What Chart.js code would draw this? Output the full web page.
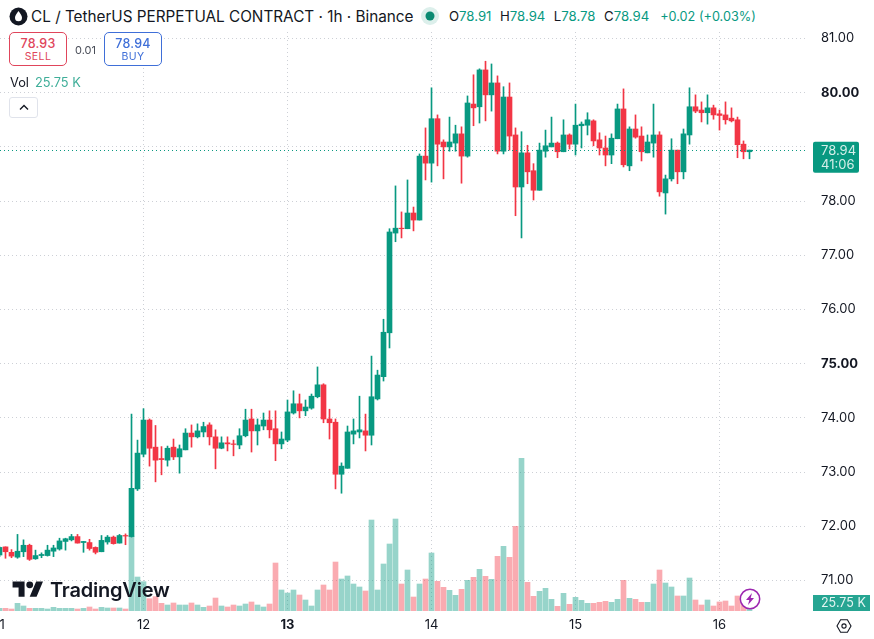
<!DOCTYPE html>
<html>
<head>
<meta charset="utf-8">
<title>CL / TetherUS hourly chart</title>
<script src="https://cdn.jsdelivr.net/npm/chart.js@4"></script>
<style>
    html, body { margin: 0; padding: 0; background: #fff; }
    body { width: 874px; height: 639px; overflow: hidden; position: relative; font-family: Inter, sans-serif; color: #131722; }
    canvas { position: absolute; left: 0; top: 0; }
    .abs { position: absolute; white-space: nowrap; }
    #legend-band { left: 0; top: 0; width: 762px; height: 31px; background: #fff; }
    #title { left: 31px; top: 7px; font-size: 15.3px; line-height: 19px; }
    #ohlc { left: 449px; top: 8px; font-size: 13.2px; line-height: 17px; color: #089981; }
    #ohlc b { font-weight: 400; color: #131722; }
    #ohlc span { margin-right: 8.5px; }
    #ohlc i { font-style: normal; font-size: 12.7px; margin-left: 2.5px; }
    .quote { box-sizing: border-box; width: 58px; height: 34px; top: 32px; border: 1px solid; border-radius: 5px; background: #fff; text-align: center; }
    .quote div:first-child { font-size: 12.5px; font-weight: 500; line-height: 15px; margin-top: 3px; letter-spacing: 0.2px; }
    .quote div:last-child { font-size: 10.5px; line-height: 12px; letter-spacing: 0.4px; }
    #sell { left: 9px; border-color: #e0455b; color: #e0455b; }
    #buy { left: 104px; border-color: #3f6fd8; color: #3f6fd8; }
    #spread { left: 75px; top: 43px; font-size: 11px; line-height: 14px; color: #4a4e59; background: #fff; }
    #vol { left: 10px; top: 75px; font-size: 12.8px; line-height: 16px; background: #fff; padding-right: 2px; }
    #vol span { color: #3fae99; margin-left: 6px; }
    #collapse { left: 9px; top: 97px; width: 29px; height: 21px; box-sizing: border-box; border: 1px solid #e0e3eb; border-radius: 3px; background: #fff; }
    #brand { left: 12px; top: 578px; }
    #brand-name { left: 50px; top: 577px; font-size: 20px; line-height: 26px; font-weight: 600; letter-spacing: -0.2px; color: #131722; }
</style>
</head>
<body>
<canvas id="grafico" width="874" height="639"></canvas>

<div class="abs" id="legend-band"></div>
<svg class="abs" style="left:9px;top:7px" width="19" height="19" viewBox="0 0 19 19">
    <circle cx="9.5" cy="9.5" r="9" fill="#131722"/>
    <path d="M9.5 4 C11.6 7 13 8.6 13 10.8 A3.5 3.5 0 0 1 6 10.8 C6 8.6 7.4 7 9.5 4 Z" fill="#fff"/>
</svg>
<div class="abs" id="title">CL / TetherUS PERPETUAL CONTRACT · 1h · Binance</div>
<svg class="abs" style="left:420px;top:6px" width="20" height="20" viewBox="0 0 20 20">
    <circle cx="10" cy="10" r="9" fill="#dcefeb"/>
    <circle cx="10" cy="10" r="4.5" fill="#0b8a72"/>
</svg>
<div class="abs" id="ohlc"><span><b>O</b>78.91</span><span><b>H</b>78.94</span><span><b>L</b>78.78</span><span><b>C</b>78.94</span><i>+0.02 (+0.03%)</i></div>

<div class="abs quote" id="sell"><div>78.93</div><div>SELL</div></div>
<div class="abs" id="spread">0.01</div>
<div class="abs quote" id="buy"><div>78.94</div><div>BUY</div></div>
<div class="abs" id="vol">Vol<span>25.75 K</span></div>
<div class="abs" id="collapse">
    <svg style="position:absolute;left:9px;top:6px" width="10" height="7" viewBox="0 0 10 7"><path d="M1 5.5 L5 1.5 L9 5.5" fill="none" stroke="#131722" stroke-width="1.4"/></svg>
</div>

<!-- marca de agua -->
<svg class="abs" id="brand" width="32" height="24" viewBox="0 0 36 28"><path d="M14 22H7V11H0V4h14v18zM28 22h-8l7.5-18h8L28 22z" fill="#131722"/><circle cx="20" cy="8" r="4" fill="#131722"/></svg>
<div class="abs" id="brand-name">TradingView</div>

<!-- icono de energia -->
<svg class="abs" style="left:739px;top:588px" width="22" height="22" viewBox="0 0 22 22">
    <circle cx="11" cy="11" r="9.7" fill="#fff" stroke="#9c27b0" stroke-width="1.5"/>
    <path d="M13 5 L7 12 L10.3 12 L9 17 L15 10 L11.7 10 Z" fill="#9c27b0"/>
</svg>
<!-- ajustes del eje -->
<svg class="abs" style="left:836px;top:618px" width="16" height="16" viewBox="0 0 16 16">
    <path d="M4.6 1.8 H11.4 L15 8 L11.4 14.2 H4.6 L1 8 Z" fill="none" stroke="#131722" stroke-width="1.1"/>
    <circle cx="8" cy="8" r="2.1" fill="none" stroke="#131722" stroke-width="1.1"/>
</svg>

<script>
// =========================================================
// DATOS: velas de 1 hora y volumen (en miles)
// =========================================================
const opens = [
    71.47, 71.62, 71.52, 71.43, 71.53, 71.65, 71.40, 71.46, 71.46, 71.54,
    71.58, 71.72, 71.75, 71.81, 71.70, 71.70, 71.61, 71.53, 71.71, 71.80,
    71.69, 71.83, 71.81, 72.69, 73.33, 73.96, 73.46, 73.25, 73.22, 73.46,
    73.28, 73.41, 73.72, 73.65, 73.74, 73.87, 73.65, 73.44, 73.54, 73.52,
    73.50, 73.67, 73.98, 73.76, 73.85, 73.96, 73.80, 73.52, 73.59, 74.09,
    74.26, 74.13, 74.18, 74.39, 74.61, 73.98, 73.92, 72.96, 73.07, 73.70,
    73.74, 73.76, 73.68, 74.35, 74.76, 75.57, 77.41, 77.50, 77.49, 77.78,
    77.65, 78.83, 78.70, 79.52, 79.09, 79.00, 79.07, 79.24, 78.83, 79.79,
    79.74, 80.42, 79.96, 80.18, 78.92, 79.92, 79.22, 78.26, 78.89, 78.56,
    78.20, 78.92, 79.00, 79.07, 78.91, 79.22, 79.05, 79.39, 79.40, 79.48,
    79.13, 78.98, 78.85, 79.15, 79.70, 78.65, 79.33, 79.20, 78.89, 79.07,
    79.22, 78.15, 78.41, 78.94, 78.54, 79.22, 79.74, 79.68, 79.63, 79.72,
    79.61, 79.59, 79.53, 79.50, 79.05, 78.91
];
const highs = [
    71.62, 71.62, 71.57, 71.85, 71.75, 71.67, 71.56, 71.51, 71.65, 71.65,
    71.78, 71.78, 71.85, 71.85, 71.72, 71.76, 71.62, 71.83, 71.83, 71.82,
    71.85, 71.86, 74.07, 73.59, 74.17, 73.98, 73.86, 73.47, 73.48, 73.61,
    73.50, 73.80, 73.87, 73.89, 73.92, 73.91, 73.78, 73.65, 73.65, 73.59,
    73.80, 74.16, 74.16, 73.98, 74.09, 74.13, 74.13, 73.74, 74.33, 74.50,
    74.44, 74.33, 74.44, 74.94, 74.63, 74.16, 73.98, 73.17, 73.85, 73.98,
    74.40, 74.07, 75.14, 74.88, 75.82, 77.49, 78.28, 77.80, 78.39, 77.89,
    78.87, 79.35, 80.09, 79.59, 79.13, 79.55, 79.40, 79.37, 79.94, 80.33,
    80.44, 80.58, 80.53, 80.31, 80.11, 80.18, 79.35, 79.28, 79.03, 78.69,
    79.07, 79.31, 79.55, 79.09, 79.50, 79.24, 79.79, 79.46, 79.63, 79.50,
    79.26, 79.20, 79.24, 79.79, 80.07, 79.37, 79.59, 79.37, 79.22, 79.79,
    79.28, 78.48, 79.15, 78.94, 79.33, 80.09, 79.96, 79.83, 79.96, 79.77,
    79.68, 79.83, 79.72, 79.55, 79.11, 78.94
];
const lows = [
    71.44, 71.41, 71.42, 71.41, 71.44, 71.37, 71.39, 71.42, 71.45, 71.44,
    71.56, 71.56, 71.73, 71.69, 71.52, 71.56, 71.49, 71.53, 71.67, 71.67,
    71.69, 71.66, 71.80, 72.66, 73.28, 73.11, 72.82, 72.95, 73.11, 73.23,
    72.98, 73.41, 73.46, 73.63, 73.65, 73.50, 73.06, 73.43, 73.39, 73.30,
    73.43, 73.65, 73.37, 73.50, 73.78, 73.63, 73.21, 73.43, 73.56, 74.07,
    74.00, 74.04, 74.16, 74.37, 73.91, 73.61, 72.69, 72.61, 73.07, 73.52,
    73.63, 73.39, 73.50, 74.33, 74.68, 75.29, 77.25, 77.32, 77.49, 77.45,
    77.65, 78.39, 78.35, 78.65, 78.41, 78.92, 78.92, 78.33, 78.81, 79.39,
    79.44, 79.48, 79.66, 78.87, 78.87, 78.94, 77.73, 77.32, 78.32, 78.02,
    78.20, 78.81, 79.00, 78.80, 78.91, 78.96, 78.85, 78.98, 79.22, 79.02,
    78.85, 78.65, 78.69, 79.15, 78.63, 78.56, 79.16, 78.74, 78.89, 78.81,
    78.09, 77.76, 78.37, 78.32, 78.41, 79.05, 79.63, 79.46, 79.42, 79.51,
    79.31, 79.42, 79.46, 78.80, 78.78, 78.78
];
const closes = [
    71.61, 71.53, 71.45, 71.54, 71.65, 71.39, 71.46, 71.48, 71.56, 71.60,
    71.73, 71.77, 71.81, 71.69, 71.72, 71.59, 71.52, 71.74, 71.80, 71.68,
    71.83, 71.82, 72.70, 73.35, 73.96, 73.44, 73.22, 73.23, 73.44, 73.28,
    73.43, 73.72, 73.65, 73.76, 73.84, 73.65, 73.44, 73.54, 73.52, 73.51,
    73.67, 73.96, 73.76, 73.87, 73.96, 73.78, 73.52, 73.61, 74.11, 74.26,
    74.13, 74.20, 74.40, 74.61, 73.98, 73.91, 72.96, 73.11, 73.74, 73.76,
    73.78, 73.68, 74.39, 74.79, 75.58, 77.43, 77.50, 77.49, 77.78, 77.65,
    78.83, 78.70, 79.52, 79.05, 79.00, 79.09, 79.24, 78.83, 79.81, 79.72,
    80.42, 79.96, 80.18, 78.92, 79.92, 79.20, 78.26, 78.89, 78.54, 78.20,
    78.94, 79.02, 79.07, 78.91, 79.22, 79.05, 79.40, 79.42, 79.50, 79.11,
    78.98, 78.85, 79.16, 79.70, 78.67, 79.33, 79.18, 78.91, 79.09, 79.22,
    78.17, 78.41, 78.94, 78.54, 79.24, 79.74, 79.66, 79.63, 79.72, 79.59,
    79.58, 79.50, 79.48, 79.04, 78.91, 78.94
];
const volumes = [
    8.6, 8.6, 6.4, 24.7, 16.1, 8.6, 8.6, 8.6, 6.4, 11.8,
    8.6, 8.6, 8.6, 6.4, 8.6, 12.9, 6.4, 11.8, 9.7, 9.7,
    9.7, 6.4, 241.4, 109.4, 94.4, 39.7, 46.1, 24.7, 19.3, 25.8,
    19.3, 19.3, 25.8, 19.3, 11.8, 16.1, 41.8, 16.1, 12.9, 19.3,
    16.1, 22.5, 29, 19.3, 12.9, 22.5, 154.5, 67.6, 57.9, 67.6,
    51.5, 35.4, 16.1, 67.6, 83.7, 67.6, 157.7, 103, 112.7, 86.9,
    77.3, 64.4, 292.9, 67.6, 151.3, 215.7, 296.1, 86.9, 132, 45,
    86.9, 103, 186.7, 95.5, 76.2, 66.5, 50.4, 69.7, 98.7, 108.4,
    134.1, 111.6, 101.9, 176, 208.2, 172.8, 272.5, 491.4, 92.3, 47.2,
    63.3, 73, 37.6, 15, 56.9, 21.5, 44, 34.3, 24.7, 24.7,
    27.9, 31.1, 27.9, 37.6, 98.7, 40.8, 37.6, 27.9, 27.9, 86.9,
    132, 90.1, 77.3, 48.3, 48.3, 106.2, 35.4, 19.3, 35.4, 16.1,
    29, 32.2, 16.1, 48.3, 38.6, 25.75
];
const priceTicks = [71, 72, 73, 74, 75, 76, 77, 78, 79, 80, 81];
const boldPrices = [80, 75];
// el 79 queda tapado por la etiqueta del precio actual
const hiddenPriceLabels = [79];
const dayPositions = [0, 24, 48, 72, 96, 120];
const dayLabels = ['11', '12', '13', '14', '15', '16'];
const boldDay = 48;
const countdown = '41:06';

const UP = '#089981';
const DOWN = '#F23645';
const UP_VOL = 'rgba(8, 153, 129, 0.42)';
const DOWN_VOL = 'rgba(242, 54, 69, 0.42)';
const GRID = '#cdd0d6';
const FONT = 'Inter, sans-serif';

const isUp = i => closes[i] >= opens[i];
const candleColors = opens.map((_, i) => isUp(i) ? UP : DOWN);
const lastClose = closes[closes.length - 1];
const lastVolume = volumes[volumes.length - 1];

// negrita solo para los ticks marcados
const tickFont = bolds => ctx => ({
    family: FONT,
    size: 13,
    weight: ctx.tick && bolds.includes(ctx.tick.value) ? 700 : 400
});

// =========================================================
// PLUGIN: linea de precio actual y etiquetas del eje
// =========================================================
const ultimoPrecio = {
    id: 'ultimoPrecio',
    afterDatasetsDraw(chart) {
        const { ctx, chartArea, scales } = chart;
        const yPrice = scales.y.getPixelForValue(lastClose);
        const yVol = scales.yVol.getPixelForValue(lastVolume);

        ctx.save();
        ctx.strokeStyle = UP;
        ctx.lineWidth = 1;
        ctx.setLineDash([1, 3]);
        ctx.beginPath();
        ctx.moveTo(chartArea.left, Math.round(yPrice) + 0.5);
        ctx.lineTo(chartArea.right, Math.round(yPrice) + 0.5);
        ctx.stroke();
        ctx.setLineDash([]);

        ctx.textAlign = 'left';
        ctx.textBaseline = 'middle';

        // etiqueta de precio con la cuenta atras debajo
        ctx.fillStyle = UP;
        ctx.beginPath();
        ctx.roundRect(813, yPrice - 8.5, 46, 31, 2);
        ctx.fill();
        ctx.fillStyle = '#d6efea';
        ctx.font = '13px ' + FONT;
        ctx.fillText(lastClose.toFixed(2), 821, yPrice + 0.5);
        ctx.fillText(countdown, 821, yPrice + 15);

        // etiqueta de volumen
        ctx.fillStyle = '#26a592';
        ctx.fillRect(813, yVol - 8, 57, 16);
        ctx.fillStyle = '#e4f5f2';
        ctx.font = '12.5px ' + FONT;
        ctx.fillText(lastVolume.toFixed(2) + ' K', 821, yVol + 0.5);
        ctx.restore();
    }
};

// =========================================================
// GRAFICO: velas y volumen con barras flotantes
// =========================================================
const xValues = opens.map((_, i) => i);

new Chart(document.getElementById('grafico').getContext('2d'), {
    type: 'bar',
    data: {
        datasets: [
            {
                label: 'Cuerpos',
                data: xValues.map(i => ({ x: i, y: [opens[i], closes[i]] })),
                backgroundColor: candleColors,
                barThickness: 5,
                grouped: false,
                yAxisID: 'y'
            },
            {
                label: 'Mechas',
                data: xValues.map(i => ({ x: i, y: [lows[i], highs[i]] })),
                backgroundColor: candleColors,
                barThickness: 1,
                grouped: false,
                yAxisID: 'y'
            },
            {
                label: 'Volumen',
                data: xValues.map(i => ({ x: i, y: volumes[i] })),
                backgroundColor: xValues.map(i => isUp(i) ? UP_VOL : DOWN_VOL),
                barThickness: 5,
                grouped: false,
                yAxisID: 'yVol'
            }
        ]
    },
    options: {
        responsive: false,
        animation: false,
        layout: { padding: 0 },
        plugins: {
            legend: { display: false },
            tooltip: { enabled: false }
        },
        scales: {
            x: {
                type: 'linear',
                offset: false,
                min: 0.083,
                max: 134.75,
                border: { display: false, dash: [1, 3] },
                grid: { color: GRID, drawTicks: false, lineWidth: 1, offset: false },
                afterBuildTicks: scale => { scale.ticks = dayPositions.map(v => ({ value: v })); },
                afterFit: scale => {
                    scale.height = 28;
                    scale.paddingLeft = 0;
                    scale.paddingRight = 0;
                },
                ticks: {
                    autoSkip: false,
                    maxRotation: 0,
                    padding: 6,
                    color: '#131722',
                    font: tickFont([boldDay]),
                    callback: value => dayLabels[dayPositions.indexOf(value)]
                }
            },
            y: {
                position: 'right',
                min: 70.437,
                max: 81.71,
                border: { display: false, dash: [1, 3] },
                grid: { color: GRID, drawTicks: false, lineWidth: 1 },
                afterBuildTicks: scale => { scale.ticks = priceTicks.map(v => ({ value: v })); },
                afterFit: scale => {
                    scale.width = 66;
                    scale.paddingTop = 0;
                    scale.paddingBottom = 0;
                },
                ticks: {
                    padding: 13,
                    color: '#131722',
                    font: tickFont(boldPrices),
                    callback: value => hiddenPriceLabels.includes(value) ? '' : value.toFixed(2)
                }
            },
            yVol: {
                display: false,
                position: 'right',
                min: 0,
                max: 1967,
                grid: { display: false }
            }
        }
    },
    plugins: [ultimoPrecio]
});
</script>
</body>
</html>
